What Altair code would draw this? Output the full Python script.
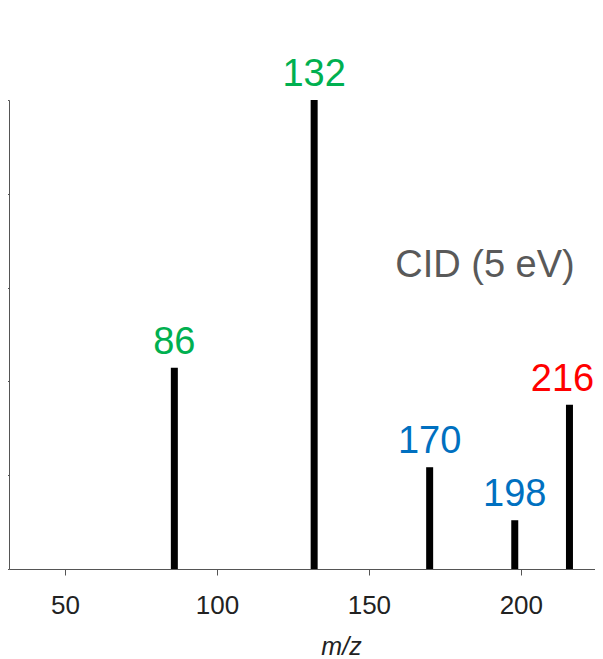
import altair as alt
import pandas as pd

mz = [86, 132, 170, 198, 216]
intensity = [42.9, 100.0, 21.7, 10.4, 35.0]
label_colors = ["#00B050", "#00B050", "#0070C0", "#0070C0", "#FF0000"]
x_ticks = [50, 100, 150, 200]
y_ticks = [0, 20, 40, 60, 80, 100]
annot_text = ["CID (5 eV)"]
annot_mz = [188.2]
annot_int = [62.3]

df = pd.DataFrame({"mz": mz, "intensity": intensity, "color": label_colors,
                   "label": [str(v) for v in mz], "base": [0] * len(mz)})
ann = pd.DataFrame({"text": annot_text, "mz": annot_mz, "intensity": annot_int})

FONT = "Liberation Sans"
xscale = alt.Scale(domain=[31.6, 224.4], nice=False, zero=False, padding=0)
yscale = alt.Scale(domain=[0, 100], nice=False, padding=0)

xaxis = alt.Axis(values=x_ticks, grid=False, domainColor="#555", tickColor="#555",
                 tickSize=6, labelFontSize=26, labelFont=FONT, labelColor="#222",
                 labelPadding=17, title="m/z", titleFont=FONT, titleFontSize=25,
                 titleFontStyle="italic", titleFontWeight="normal", titleColor="#222",
                 titleX=332, titleY=85, titleBaseline="alphabetic", titleAlign="center")
yaxis = alt.Axis(values=y_ticks, grid=False, labels=False, title=None,
                 domainColor="#555", tickColor="#555", tickSize=6)

bars = alt.Chart(df).mark_rule(color="black", strokeWidth=7).encode(
    x=alt.X("mz:Q", scale=xscale, axis=xaxis),
    y=alt.Y("intensity:Q", scale=yscale, axis=yaxis),
    y2="base:Q",
)

enc = dict(
    x=alt.X("mz:Q", scale=xscale),
    y=alt.Y("intensity:Q", scale=yscale),
    text="label:N",
    color=alt.Color("color:N", scale=None),
)

labels = alt.Chart(df).transform_filter(alt.datum.mz < 210).mark_text(
    fontSize=38, font=FONT, baseline="alphabetic", align="center", dy=-14
).encode(**enc)

labels_edge = alt.Chart(df).transform_filter(alt.datum.mz >= 210).mark_text(
    fontSize=38, font=FONT, baseline="alphabetic", align="center", dy=-14, dx=-7
).encode(**enc)

annot = alt.Chart(ann).mark_text(fontSize=38, font=FONT, baseline="alphabetic",
                                 align="center", color="#595959").encode(
    x=alt.X("mz:Q", scale=xscale),
    y=alt.Y("intensity:Q", scale=yscale),
    text="text:N",
)

chart = alt.layer(bars, labels, labels_edge, annot).properties(
    width=586, height=469,
    autosize=alt.AutoSizeParams(type="none"),
    padding={"left": 1, "top": 92, "right": 0, "bottom": 90},
).configure(background="white").configure_view(stroke=None)

chart.save("out.html", embed_options={"renderer": "svg", "actions": False})
